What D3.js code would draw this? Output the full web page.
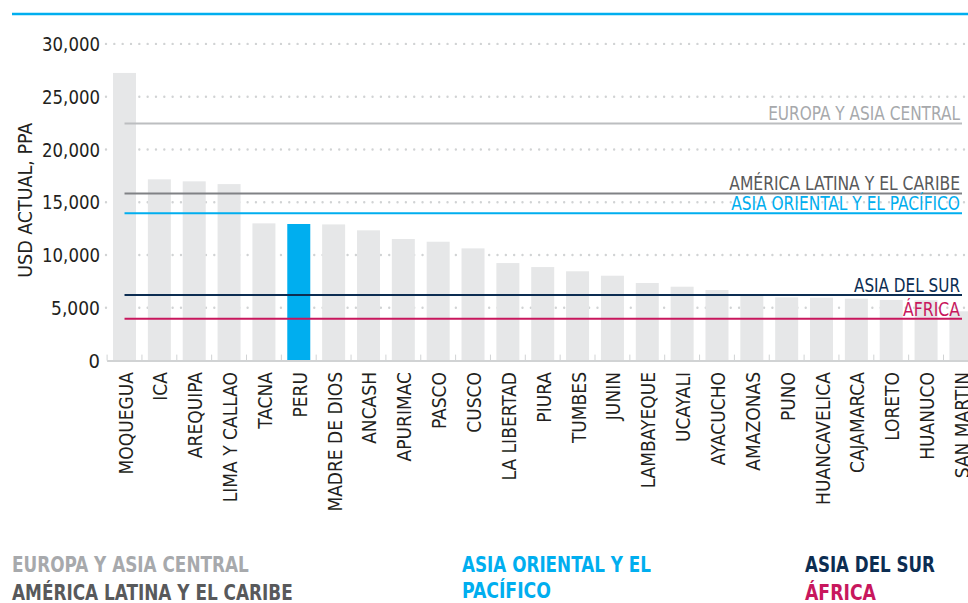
<!DOCTYPE html>
<html>
<head>
<meta charset="utf-8">
<script src="https://cdn.jsdelivr.net/npm/d3@7"></script>
<style>
  html, body { margin: 0; padding: 0; background: #fff; }
  svg { display: block; }
  text { font-family: "Liberation Sans Narrow", "DejaVu Sans Condensed", "Roboto Condensed", "Liberation Sans", sans-serif; }
</style>
</head>
<body>
<svg id="chart" width="968" height="603"></svg>
<script>
// ---- data ----
const categories = ["MOQUEGUA","ICA","AREQUIPA","LIMA Y CALLAO","TACNA","PERU","MADRE DE DIOS","ANCASH","APURIMAC","PASCO","CUSCO","LA LIBERTAD","PIURA","TUMBES","JUNIN","LAMBAYEQUE","UCAYALI","AYACUCHO","AMAZONAS","PUNO","HUANCAVELICA","CAJAMARCA","LORETO","HUANUCO","SAN MARTIN"];
const values = [27250,17170,16980,16720,13000,12940,12900,12340,11520,11260,10630,9240,8860,8460,8040,7350,7000,6690,6240,5990,5960,5870,5750,5720,4670];
const highlight = "PERU";
const regionNames = ["EUROPA Y ASIA CENTRAL","AMÉRICA LATINA Y EL CARIBE","ASIA ORIENTAL Y EL PACÍFICO","ASIA DEL SUR","ÁFRICA"];
const regionValues = [22470,15840,13950,6210,3970];
const regionLineColors = ["#bcbec0","#808285","#00aeef","#0c2d52","#c8175d"];
const regionTextColors = ["#a7a9ac","#58595b","#00aeef","#0c2d52","#c8175d"];
const yTicks = [0,5000,10000,15000,20000,25000,30000];
const yTitle = "USD ACTUAL, PPA";

// ---- helpers ----
// squeeze a text horizontally to a target width (emulates the condensed typeface)
function fit(sel, ax, ay, target, rotate) {
  sel.each(function() {
    const el = d3.select(this);
    el.attr("x", 0).attr("y", 0);
    const w = this.getComputedTextLength();
    const s = Math.min(1, target / w);
    el.attr("transform", `translate(${ax},${ay})${rotate ? " rotate(" + rotate + ")" : ""} scale(${s},1)`);
  });
}

// ---- layout ----
const svg = d3.select("#chart");
const step = 34.85;
const x0 = 107.1;
const x = d3.scaleBand().domain(categories)
  .range([x0, x0 + step * categories.length])
  .paddingInner(0.34).paddingOuter(0.17);
const y = d3.scaleLinear().domain([0, 30000]).range([360.6, 43.9]);

// top rule
svg.append("line").attr("x1", 12).attr("x2", 968).attr("y1", 14).attr("y2", 14)
  .attr("stroke", "#00aeef").attr("stroke-width", 2.5);

// dotted gridlines
svg.append("g").selectAll("line").data(yTicks.filter(d => d > 0)).join("line")
  .attr("x1", 106).attr("x2", 968)
  .attr("y1", d => y(d)).attr("y2", d => y(d))
  .attr("stroke", "#d1d3d4").attr("stroke-width", 2.4)
  .attr("stroke-linecap", "round").attr("stroke-dasharray", "0 8.33");

// y axis labels
const yAxis = d3.axisLeft(y).tickValues(yTicks).tickSize(0).tickPadding(0)
  .tickFormat(d3.format(","));
const gy = svg.append("g").attr("transform", "translate(100,0)").call(yAxis);
gy.select(".domain").remove();
gy.selectAll("text").attr("font-size", 20).attr("fill", "#231f20")
  .attr("dy", "0.36em");
gy.selectAll(".tick").each(function(d) {
  const t = d3.select(this).select("text");
  const ty = y(d);
  d3.select(this).attr("transform", null);
  fit(t, 0, ty, d === 0 ? 12 : (d >= 10000 ? 58 : 49));
});

// y title
const yt = svg.append("text")
  .attr("text-anchor", "middle").attr("font-size", 20).attr("fill", "#231f20")
  .text(yTitle);
fit(yt, 32, y(15000) - 2, 155, -90);

// bars
svg.append("g").selectAll("rect").data(categories).join("rect")
  .attr("x", d => x(d))
  .attr("width", x.bandwidth())
  .attr("y", (d, i) => y(values[i]))
  .attr("height", (d, i) => y(0) - y(values[i]))
  .attr("fill", d => d === highlight ? "#00aeef" : "#e6e7e8");

// baseline + band ticks
svg.append("line").attr("x1", x0).attr("x2", 968).attr("y1", y(0) + 0.5).attr("y2", y(0) + 0.5)
  .attr("stroke", "#d1d3d4").attr("stroke-width", 2);
svg.append("g").selectAll("line").data(categories).join("line")
  .attr("x1", d => x(d) - x.step() * x.paddingInner() / 2)
  .attr("x2", d => x(d) - x.step() * x.paddingInner() / 2)
  .attr("y1", y(0) - 6).attr("y2", y(0))
  .attr("stroke", "#d1d3d4").attr("stroke-width", 1);

// x labels
svg.append("g").selectAll("text").data(categories).join("text")
  .attr("transform", d => `translate(${x(d) + x.bandwidth() / 2 + 8},372) rotate(-90)`)
  .attr("text-anchor", "end").attr("font-size", 19).attr("fill", "#231f20")
  .text(d => d);

// region reference lines
const lineStart = x(categories[0]) + x.bandwidth() / 2;
const lineEnd = 962;
const inlineWidths = [192, 231, 229, 106, 57];
const rg = svg.append("g");
regionNames.forEach((name, i) => {
  rg.append("line").attr("x1", lineStart).attr("x2", lineEnd)
    .attr("y1", y(regionValues[i])).attr("y2", y(regionValues[i]))
    .attr("stroke", regionLineColors[i]).attr("stroke-width", 2);
  const t = rg.append("text")
    .attr("text-anchor", "end").attr("font-size", 19)
    .attr("fill", regionTextColors[i]).text(name);
  fit(t, 960, y(regionValues[i]) - 3, inlineWidths[i]);
});

// bottom legend
const legend = [
  {t: regionNames[0], c: regionTextColors[0], x: 12, y: 572, w: 237},
  {t: regionNames[1], c: regionTextColors[1], x: 12, y: 600, w: 281},
  {t: "ASIA ORIENTAL Y EL", c: regionTextColors[2], x: 462, y: 572, w: 189},
  {t: "PACÍFICO", c: regionTextColors[2], x: 462, y: 598, w: 89},
  {t: regionNames[3], c: regionTextColors[3], x: 805, y: 572, w: 130},
  {t: regionNames[4], c: regionTextColors[4], x: 805, y: 600, w: 71}
];
const lg = svg.append("g");
legend.forEach(d => {
  const t = lg.append("text")
    .attr("font-size", 21).attr("font-weight", "bold")
    .attr("fill", d.c).text(d.t);
  fit(t, d.x, d.y, d.w);
});
</script>
</body>
</html>
